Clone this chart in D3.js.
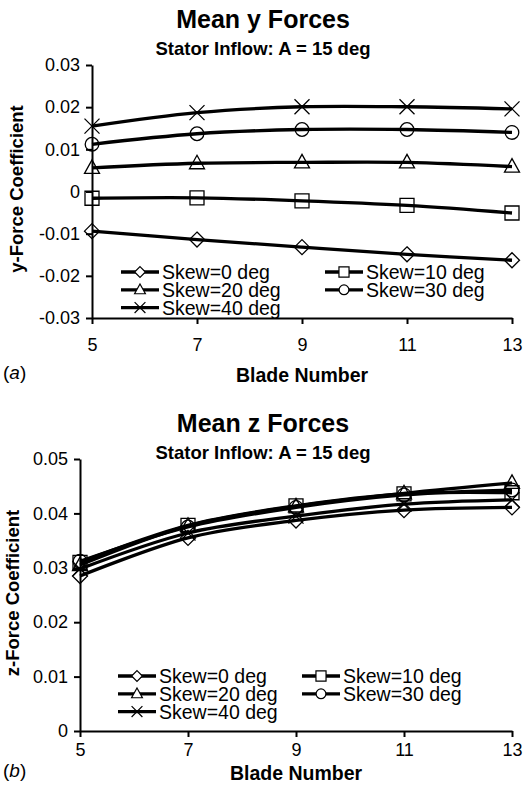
<!DOCTYPE html>
<html>
<head>
<meta charset="utf-8">
<script src="https://cdn.jsdelivr.net/npm/d3@7.9.0/dist/d3.min.js"></script>
<style>
  body { margin: 0; background: #fff; }
  svg { display: block; font-family: "Liberation Sans", Arial, sans-serif; }
</style>
</head>
<body>
<svg id="chart" width="524" height="786"></svg>
<script>
// blade counts on the x axis
const blades = [5, 7, 9, 11, 13];
const skewLabels = ["Skew=0 deg", "Skew=10 deg", "Skew=20 deg", "Skew=30 deg", "Skew=40 deg"];
const markerTypes = ["diamond", "square", "triangle", "circle", "cross"];

// (a) mean y force coefficient
const ySkew0 = [-0.0094, -0.0114, -0.0132, -0.0149, -0.0163];
const ySkew10 = [-0.0016, -0.0015, -0.0022, -0.0033, -0.0051];
const ySkew20 = [0.0056, 0.0067, 0.0069, 0.0069, 0.0059];
const ySkew30 = [0.0112, 0.0137, 0.0147, 0.0147, 0.0140];
const ySkew40 = [0.0155, 0.0187, 0.0201, 0.0201, 0.0196];

// (b) mean z force coefficient
const zSkew0 = [0.0285, 0.0355, 0.0387, 0.0406, 0.0411];
const zSkew10 = [0.0310, 0.0378, 0.0414, 0.0436, 0.0438];
const zSkew20 = [0.0305, 0.0377, 0.0413, 0.0437, 0.0456];
const zSkew30 = [0.0312, 0.0375, 0.0411, 0.0434, 0.0443];
const zSkew40 = [0.0298, 0.0364, 0.0395, 0.0417, 0.0425];

const yTicksA = [-0.03, -0.02, -0.01, 0, 0.01, 0.02, 0.03];
const yTicksB = [0, 0.01, 0.02, 0.03, 0.04, 0.05];

const svg = d3.select("#chart");

function fmt(d) {
  return d === 0 ? "0" : d.toFixed(2);
}

// marker shapes, drawn around (0,0)
function markerPath(type, s) {
  const p = d3.path();
  if (type === "diamond") {
    p.moveTo(0, -7.5 * s); p.lineTo(7.5 * s, 0); p.lineTo(0, 7.5 * s); p.lineTo(-7.5 * s, 0); p.closePath();
  } else if (type === "square") {
    p.rect(-7 * s, -7 * s, 14 * s, 14 * s);
  } else if (type === "triangle") {
    p.moveTo(0, -8 * s); p.lineTo(7.5 * s, 5.5 * s); p.lineTo(-7.5 * s, 5.5 * s); p.closePath();
  } else if (type === "circle") {
    p.moveTo(6.8 * s, 0); p.arc(0, 0, 6.8 * s, 0, 2 * Math.PI);
  } else {
    p.moveTo(-7.5 * s, -7.5 * s); p.lineTo(7.5 * s, 7.5 * s);
    p.moveTo(7.5 * s, -7.5 * s); p.lineTo(-7.5 * s, 7.5 * s);
  }
  return p.toString();
}

function drawPanel(cfg) {
  const g = svg.append("g");
  const x = d3.scaleLinear().domain([5, 13]).range(cfg.xRange);
  const y = d3.scaleLinear().domain(cfg.yDomain).range(cfg.yRange);

  g.append("text")
    .attr("x", cfg.titleX).attr("y", cfg.titleY)
    .attr("text-anchor", "middle")
    .attr("font-weight", "bold").attr("font-size", 25)
    .text(cfg.title);
  g.append("text")
    .attr("x", cfg.titleX).attr("y", cfg.titleY + 27)
    .attr("text-anchor", "middle")
    .attr("font-weight", "bold").attr("font-size", 18.5)
    .text("Stator Inflow: A = 15 deg");

  const yAxis = g.append("g")
    .attr("transform", `translate(${cfg.xRange[0]},0)`)
    .call(d3.axisLeft(y).tickValues(cfg.yTicks).tickFormat(fmt).tickSize(6).tickSizeOuter(0).tickPadding(6));
  const xAxis = g.append("g")
    .attr("transform", `translate(0,${cfg.yRange[0]})`)
    .call(d3.axisBottom(x).tickValues(blades).tickSize(6).tickSizeOuter(0).tickPadding(cfg.xPad));
  [yAxis, xAxis].forEach(a => {
    a.selectAll("path, line").attr("stroke", "#000").attr("stroke-width", 2);
    a.selectAll("text").attr("font-size", 18).attr("fill", "#000")
      .attr("font-family", "\"Liberation Sans\", Arial, sans-serif");
  });

  g.append("text")
    .attr("transform", `translate(${cfg.yLabelX},${cfg.yLabelY}) rotate(-90)`)
    .attr("text-anchor", "middle")
    .attr("font-weight", "bold").attr("font-size", 18.5)
    .text(cfg.yLabel);
  g.append("text")
    .attr("x", (cfg.xRange[0] + cfg.xRange[1]) / 2).attr("y", cfg.xLabelY)
    .attr("text-anchor", "middle")
    .attr("font-weight", "bold").attr("font-size", 19.5)
    .text("Blade Number");
  const tag = g.append("text").attr("x", 3).attr("y", cfg.tagY).attr("font-size", 19);
  tag.append("tspan").text("(");
  tag.append("tspan").attr("font-style", "italic").text(cfg.tag);
  tag.append("tspan").text(")");

  const line = d3.line()
    .x((d, i) => x(blades[i]))
    .y(d => y(d))
    .curve(d3.curveCardinal.tension(0));

  cfg.series.forEach((vals, k) => {
    g.append("path")
      .attr("d", line(vals))
      .attr("fill", "none").attr("stroke", "#000").attr("stroke-width", 3.3);
    g.selectAll(null).data(vals).join("path")
      .attr("transform", (d, i) => `translate(${x(blades[i])},${y(d)})`)
      .attr("d", markerPath(markerTypes[k], 1))
      .attr("fill", "none").attr("stroke", "#000").attr("stroke-width", 1.3);
  });

  // legend
  const lg = g.append("g");
  skewLabels.forEach((lab, k) => {
    const col = k % 2, row = Math.floor(k / 2);
    const lx = cfg.legendCols[col], ly = cfg.legendY + row * 17.8;
    lg.append("line")
      .attr("x1", lx).attr("x2", lx + 38).attr("y1", ly).attr("y2", ly)
      .attr("stroke", "#000").attr("stroke-width", 3.3);
    lg.append("path")
      .attr("transform", `translate(${lx + 19},${ly})`)
      .attr("d", markerPath(markerTypes[k], 0.72))
      .attr("fill", "#fff")
      .attr("stroke", "#000").attr("stroke-width", 1.2);
    lg.append("text")
      .attr("x", lx + 41).attr("y", ly + 7)
      .attr("font-size", 19.5)
      .text(lab);
  });
}

drawPanel({
  title: "Mean y Forces", titleX: 263, titleY: 28,
  xRange: [92, 512], yDomain: [-0.03, 0.03], yRange: [318, 65], yTicks: yTicksA,
  xPad: 14, yLabel: "y-Force Coefficient", yLabelX: 23, yLabelY: 189,
  xLabelY: 382, tag: "a", tagY: 379,
  series: [ySkew0, ySkew10, ySkew20, ySkew30, ySkew40],
  legendCols: [121, 325], legendY: 272
});

drawPanel({
  title: "Mean z Forces", titleX: 263, titleY: 432,
  xRange: [80, 512], yDomain: [0, 0.05], yRange: [731, 459], yTicks: yTicksB,
  xPad: 6, yLabel: "z-Force Coefficient", yLabelX: 19, yLabelY: 593,
  xLabelY: 780, tag: "b", tagY: 777,
  series: [zSkew0, zSkew10, zSkew20, zSkew30, zSkew40],
  legendCols: [118, 302], legendY: 676
});
</script>
</body>
</html>
